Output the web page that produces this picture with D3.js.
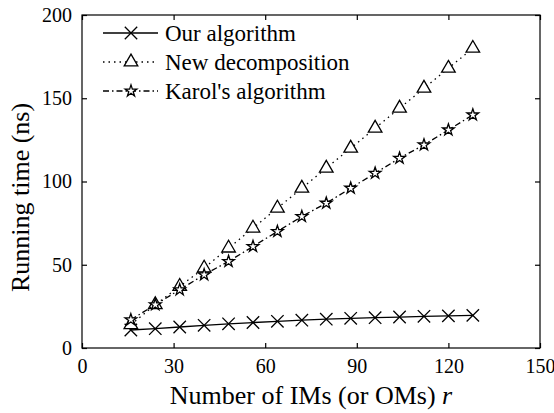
<html><head><meta charset="utf-8"><script src="https://cdn.jsdelivr.net/npm/d3@7"></script></head>
<body style="margin:0">
<svg id="chart" width="554" height="413"></svg>
<script>
// Number of IMs (or OMs) r
const rValues = [16, 24, 32, 40, 48, 56, 64, 72, 80, 88, 96, 104, 112, 120, 128];
// Running time (ns) per method
const ourAlgorithm = [10.8, 11.6, 12.6, 13.6, 14.5, 15.3, 16.0, 16.7, 17.3, 17.8, 18.2, 18.6, 19.0, 19.3, 19.6];
const newDecomposition = [14, 26, 37, 48, 60, 72, 84, 96, 108, 120, 132, 144, 156, 168, 180];
const karolAlgorithm = [17, 26, 35, 44, 52, 61, 70, 79, 87, 96, 105, 114, 122, 131, 140];

const seriesNames = ["Our algorithm", "New decomposition", "Karol's algorithm"];
const xTicks = [0, 30, 60, 90, 120, 150];
const yTicks = [0, 50, 100, 150, 200];

const FONT = "Liberation Serif";
const svg = d3.select("#chart");
const margin = { left: 82, right: 14, top: 15, bottom: 65 };
const W = 554, H = 413;
const x = d3.scaleLinear().domain([0, 150]).range([margin.left, W - margin.right]);
const y = d3.scaleLinear().domain([0, 200]).range([H - margin.bottom, margin.top]);

const series = [
  { name: seriesNames[0], values: ourAlgorithm, dash: null, marker: "x" },
  { name: seriesNames[1], values: newDecomposition, dash: "1.5,4", marker: "tri" },
  { name: seriesNames[2], values: karolAlgorithm, dash: "6,3,1.5,3", marker: "star" }
];

// Frame
svg.append("rect")
  .attr("x", x(0)).attr("y", y(200))
  .attr("width", x(150) - x(0)).attr("height", y(0) - y(200))
  .attr("fill", "none").attr("stroke", "#000").attr("stroke-width", 1.2);

// Axes with inward ticks
const tickLen = 5;
const axisBottomG = svg.append("g").attr("transform", `translate(0,${y(0)})`)
  .call(d3.axisBottom(x).tickValues(xTicks).tickSizeInner(-tickLen).tickSizeOuter(0).tickPadding(11));
const axisTopG = svg.append("g").attr("transform", `translate(0,${y(200)})`)
  .call(d3.axisTop(x).tickValues(xTicks).tickSizeInner(-tickLen).tickSizeOuter(0).tickFormat(""));
const axisLeftG = svg.append("g").attr("transform", `translate(${x(0)},0)`)
  .call(d3.axisLeft(y).tickValues(yTicks).tickSizeInner(-tickLen).tickSizeOuter(0).tickPadding(10));
const axisRightG = svg.append("g").attr("transform", `translate(${x(150)},0)`)
  .call(d3.axisRight(y).tickValues(yTicks).tickSizeInner(-tickLen).tickSizeOuter(0).tickFormat(""));

[axisBottomG, axisTopG, axisLeftG, axisRightG].forEach(g => {
  g.attr("font-family", FONT).attr("font-size", 20);
  g.select(".domain").remove();
  g.selectAll("line").attr("stroke", "#000").attr("stroke-width", 1.2);
  g.selectAll("text").attr("fill", "#000").attr("font-family", FONT).attr("font-size", 20);
});

// Axis titles
svg.append("text")
  .attr("x", (x(0) + x(150)) / 2).attr("y", 404)
  .attr("text-anchor", "middle")
  .attr("font-family", FONT).attr("font-size", 26)
  .html('Number of IMs (or OMs) <tspan font-style="italic">r</tspan>');
svg.append("text")
  .attr("transform", `translate(29,${(y(0) + y(200)) / 2 + 16}) rotate(-90)`)
  .attr("text-anchor", "middle")
  .attr("font-family", FONT).attr("font-size", 26)
  .text("Running time (ns)");

// Marker shapes
function drawMarker(g, type, cx, cy) {
  if (type === "x") {
    const s = 6.2;
    g.append("path")
      .attr("d", `M${cx - s},${cy - s}L${cx + s},${cy + s}M${cx - s},${cy + s}L${cx + s},${cy - s}`)
      .attr("stroke", "#000").attr("stroke-width", 1.3).attr("fill", "none");
  } else if (type === "tri") {
    g.append("path")
      .attr("d", d3.symbol(d3.symbolTriangle, 80)())
      .attr("transform", `translate(${cx},${cy})`)
      .attr("fill", "#fff").attr("stroke", "#000").attr("stroke-width", 1.3);
  } else {
    g.append("path")
      .attr("d", d3.symbol(d3.symbolStar, 42)())
      .attr("transform", `translate(${cx},${cy})`)
      .attr("fill", "#fff").attr("stroke", "#000").attr("stroke-width", 1.3);
  }
}

const line = d3.line().x((d, i) => x(rValues[i])).y(d => y(d));

series.forEach(s => {
  svg.append("path")
    .datum(s.values)
    .attr("d", line)
    .attr("fill", "none").attr("stroke", "#000").attr("stroke-width", 1.3)
    .attr("stroke-dasharray", s.dash);
  const mg = svg.append("g");
  s.values.forEach((v, i) => drawMarker(mg, s.marker, x(rValues[i]), y(v)));
});

// Legend
const legend = svg.append("g");
series.forEach((s, i) => {
  const ly = 33 + i * 29;
  legend.append("line")
    .attr("x1", 103).attr("x2", 158).attr("y1", ly).attr("y2", ly)
    .attr("stroke", "#000").attr("stroke-width", 1.3)
    .attr("stroke-dasharray", s.dash);
  drawMarker(legend, s.marker, 131, ly);
  legend.append("text")
    .attr("x", 165).attr("y", ly + 7.5)
    .attr("font-family", FONT).attr("font-size", 23)
    .text(s.name);
});
</script>
</body>
</html>
